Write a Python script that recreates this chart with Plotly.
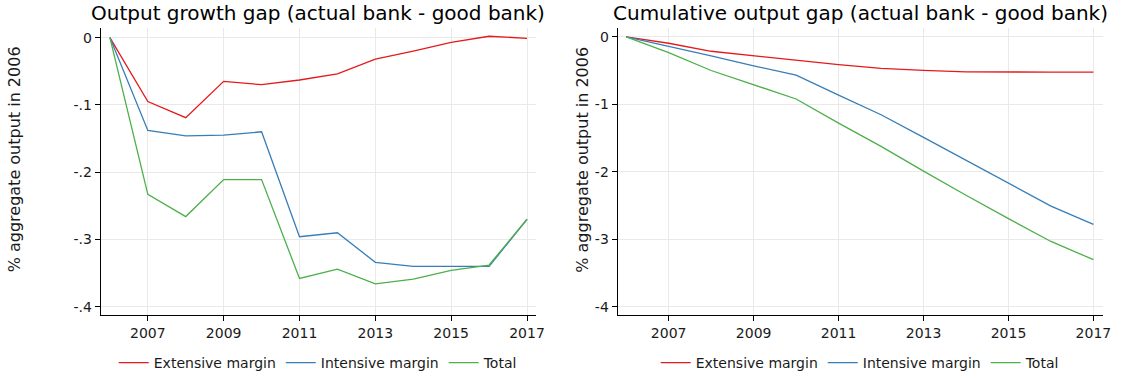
import plotly.graph_objects as go

# Years covered by the simulation
years = [2006, 2007, 2008, 2009, 2010, 2011, 2012, 2013, 2014, 2015, 2016, 2017]

# Output growth gap (actual bank - good bank), % of 2006 aggregate output
growth_extensive = [0, -0.095, -0.119, -0.065, -0.070, -0.063, -0.054, -0.032, -0.020, -0.007, 0.002, -0.001]
growth_intensive = [0, -0.138, -0.146, -0.145, -0.140, -0.296, -0.290, -0.334, -0.340, -0.340, -0.340, -0.270]
growth_total = [0, -0.233, -0.266, -0.211, -0.211, -0.358, -0.344, -0.366, -0.359, -0.346, -0.338, -0.270]

# Cumulative output gap (actual bank - good bank)
cum_extensive = [0, -0.095, -0.214, -0.279, -0.349, -0.412, -0.466, -0.498, -0.518, -0.525, -0.523, -0.524]
cum_intensive = [0, -0.138, -0.284, -0.429, -0.569, -0.865, -1.155, -1.489, -1.829, -2.169, -2.509, -2.779]
cum_total = [0, -0.233, -0.499, -0.710, -0.921, -1.279, -1.623, -1.989, -2.348, -2.694, -3.032, -3.302]

series_names = ["Extensive margin", "Intensive margin", "Total"]
series_colors = ["#e41a1c", "#377eb8", "#4daf4a"]

x_ticks = [2007, 2009, 2011, 2013, 2015, 2017]
left_yticks = [0, -0.1, -0.2, -0.3, -0.4]
left_ytext = ["0", "-.1", "-.2", "-.3", "-.4"]
right_yticks = [0, -1, -2, -3, -4]
right_ytext = ["0", "-1", "-2", "-3", "-4"]

left_title = "Output growth gap (actual bank - good bank)"
right_title = "Cumulative output gap (actual bank - good bank)"
y_label = "% aggregate output in 2006"

W, H = 1122, 379
FONT = "DejaVu Sans"
TEXT = "#1a1a1a"

fig = go.Figure()

panels = [
    ("x", "y", "legend", [growth_extensive, growth_intensive, growth_total]),
    ("x2", "y2", "legend2", [cum_extensive, cum_intensive, cum_total]),
]
for xa, ya, leg, data in panels:
    for name, color, vals in zip(series_names, series_colors, data):
        fig.add_trace(go.Scatter(
            x=years, y=vals, name=name, mode="lines",
            line=dict(color=color, width=1.3),
            xaxis=xa, yaxis=ya, legend=leg, showlegend=True,
            hoverinfo="skip",
        ))

# Plot-area edges in pixels
L1, R1 = 101.7, 540.0
L2, R2 = 622.7, 1111.7
TOP, BOT = 28.5, 320.3

axis_common = dict(
    showline=True, linecolor="#000000", linewidth=1.2,
    ticks="outside", ticklen=5, tickwidth=1.2, tickcolor="#000000",
    showgrid=True, gridcolor="#e9e9e9", gridwidth=1,
    zeroline=False,
    tickfont=dict(family=FONT, size=14, color=TEXT),
)

legend_common = dict(
    orientation="h", y=1 - 369 / H, yanchor="middle", xanchor="center",
    font=dict(family=FONT, size=14, color=TEXT),
    bgcolor="rgba(0,0,0,0)", itemwidth=30,
)

fig.update_layout(
    width=W, height=H,
    margin=dict(l=0, r=0, t=0, b=0),
    paper_bgcolor="white", plot_bgcolor="white",
    font=dict(family=FONT, color=TEXT),
    xaxis=dict(domain=[L1 / W, R1 / W], range=[2005.762, 2017.228],
               tickvals=x_ticks, anchor="y", **axis_common),
    yaxis=dict(domain=[1 - BOT / H, 1 - TOP / H], range=[-0.4126, 0.0142],
               tickvals=left_yticks, ticktext=left_ytext, anchor="x", **axis_common),
    xaxis2=dict(domain=[L2 / W, R2 / W], range=[2005.80, 2017.22],
                tickvals=x_ticks, anchor="y2", **axis_common),
    yaxis2=dict(domain=[1 - BOT / H, 1 - TOP / H], range=[-4.125, 0.13],
                tickvals=right_yticks, ticktext=right_ytext, anchor="x2", **axis_common),
    legend=dict(x=(L1 + R1) / 2 / W, **legend_common),
    legend2=dict(x=(L2 + R2) / 2 / W, **legend_common),
)

# Panel titles
for title, left, right in [(left_title, L1, R1), (right_title, L2, R2)]:
    fig.add_annotation(text=title, xref="paper", yref="paper",
                       x=(left + right) / 2 / W, y=1 - 13.5 / H,
                       xanchor="center", yanchor="middle", showarrow=False,
                       font=dict(family=FONT, size=20, color="#000000"))

# Rotated y-axis labels
for xpos in [15, 587]:
    fig.add_annotation(text=y_label, xref="paper", yref="paper",
                       x=xpos / W, y=1 - 162 / H,
                       xanchor="center", yanchor="middle", showarrow=False,
                       textangle=-90,
                       font=dict(family=FONT, size=16, color=TEXT))

fig.write_html("out.html")
